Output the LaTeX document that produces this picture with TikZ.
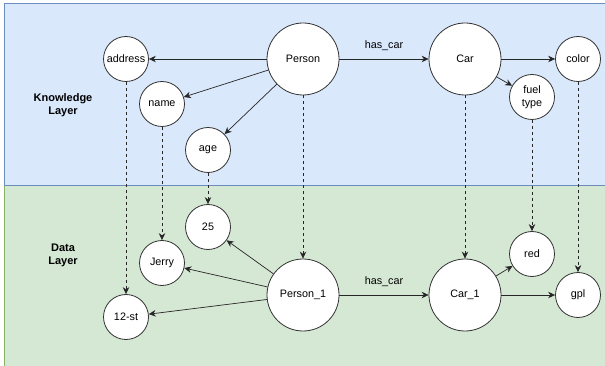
\documentclass[tikz,border=0pt]{standalone}
\usepackage{fontspec}
\setmainfont{Liberation Sans}
\usepackage{xcolor}
\usetikzlibrary{arrows.meta}

\definecolor{kfill}{HTML}{DAE8FC}
\definecolor{kline}{HTML}{6C8EBF}
\definecolor{dfill}{HTML}{D5E8D4}
\definecolor{dline}{HTML}{82B366}

\tikzset{
  ent/.style={circle, draw=black!80, fill=white, line width=0.8pt, minimum size=72pt, inner sep=0pt},
  attr/.style={circle, draw=black!80, fill=white, line width=0.8pt, minimum size=45pt, inner sep=0pt, align=center},
  rel/.style={draw=black!85, line width=0.7pt, -{Stealth[length=7pt,width=6.5pt]}},
  inst/.style={draw=black!85, line width=0.7pt, dash pattern=on 3pt off 3pt, -{Stealth[length=7pt,width=6.5pt]}},
  layer/.style={font=\fontsize{11}{13}\selectfont\bfseries, align=center}
}

\begin{document}
\begin{tikzpicture}[x=1pt, y=-1pt, font=\fontsize{10.8}{12.5}\selectfont]
  \useasboundingbox (0,0) rectangle (605,366);
  % layers
  \fill[dfill] (4,186) rectangle (612,370);
  \draw[dline, line width=1pt] (4,186) -- (4,370);
  \fill[kfill] (4,4) rectangle (612,186);
  \draw[kline, line width=1pt] (612,4) -- (4,4) -- (4,186) -- (612,186);
  \node[layer] (klayer) at (63,105) {Knowledge\\Layer};
  \node[layer] (dlayer) at (63,255) {Data\\Layer};

  % knowledge layer
  \node[ent] (person) at (303,59) {Person};
  \node[ent] (car) at (465,59) {Car};
  \node[attr] (address) at (126,59) {address};
  \node[attr] (name) at (162,104) {name};
  \node[attr] (age) at (208,150) {age};
  \node[attr] (color) at (578,59) {color};
  \node[attr] (fuel) at (532,97) {fuel\\type};

  % data layer
  \node[ent] (person1) at (303,295) {Person\_1};
  \node[ent] (car1) at (465,295) {Car\_1};
  \node[attr] (v25) at (208,227) {25};
  \node[attr] (jerry) at (162,263) {Jerry};
  \node[attr] (street) at (126,317) {12-st};
  \node[attr] (red) at (532,254) {red};
  \node[attr] (gpl) at (578,295) {gpl};

  \draw[rel] (person) -- (address);
  \draw[rel] (person) -- (name);
  \draw[rel] (person) -- (age);
  \draw[rel] (person) -- node[above=5pt] {has\_car} (car);
  \draw[rel] (car) -- (color);
  \draw[rel] (car) -- (fuel);

  \draw[rel] (person1) -- (v25);
  \draw[rel] (person1) -- (jerry);
  \draw[rel] (person1) -- (street);
  \draw[rel] (person1) -- node[above=5pt] {has\_car} (car1);
  \draw[rel] (car1) -- (red);
  \draw[rel] (car1) -- (gpl);

  \draw[inst] (address) -- (street);
  \draw[inst] (name) -- (jerry);
  \draw[inst] (age) -- (v25);
  \draw[inst] (person) -- (person1);
  \draw[inst] (car) -- (car1);
  \draw[inst] (fuel) -- (red);
  \draw[inst] (color) -- (gpl);
\end{tikzpicture}
\end{document}
